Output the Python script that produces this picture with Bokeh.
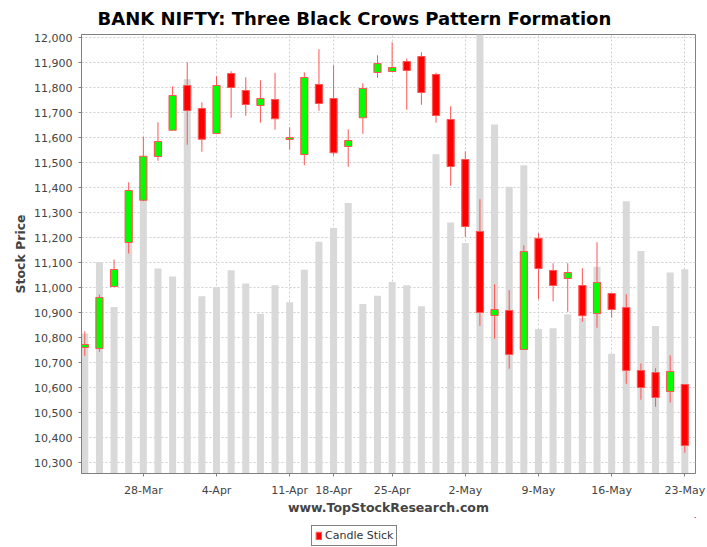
from bokeh.plotting import figure
from bokeh.layouts import column
from bokeh.models import (Range1d, FixedTicker, SingleIntervalTicker, NumeralTickFormatter,
                          Legend, LegendItem, ColumnDataSource)
from bokeh.embed import file_html
from bokeh.resources import INLINE

# ---- data (trading days, 2011) ----
dates = ["22-Mar", "23-Mar", "24-Mar", "25-Mar", "28-Mar", "29-Mar", "30-Mar", "31-Mar", "1-Apr",
         "4-Apr", "5-Apr", "6-Apr", "7-Apr", "8-Apr", "11-Apr", "13-Apr", "15-Apr",
         "18-Apr", "19-Apr", "20-Apr", "21-Apr", "25-Apr", "26-Apr", "27-Apr", "28-Apr", "29-Apr",
         "2-May", "3-May", "4-May", "5-May", "6-May", "9-May", "10-May", "11-May", "12-May", "13-May",
         "16-May", "17-May", "18-May", "19-May", "20-May", "23-May"]
opens = [10760, 10756, 11004, 11180, 11349, 11524, 11629, 11808, 11716, 11616, 11856, 11788, 11728, 11752,
         11592, 11532, 11812, 11756, 11564, 11679, 11860, 11864, 11904, 11924, 11852, 11672, 11512, 11224,
         10888, 10908, 10752, 11197, 11068, 11036, 11008, 10896, 10976, 10920, 10668, 10660, 10584, 10612]
highs = [10825, 10972, 11112, 11421, 11603, 11661, 11805, 11901, 11741, 11845, 11865, 11841, 11829, 11859,
         11641, 11861, 11953, 11889, 11633, 11817, 11929, 11981, 11916, 11941, 11859, 11725, 11545, 11353,
         11013, 10989, 11169, 11217, 11097, 11097, 11077, 11181, 10978, 10973, 10696, 10677, 10729, 10614]
lows = [10727, 10743, 11003, 11136, 11345, 11507, 11629, 11571, 11543, 11613, 11679, 11687, 11659, 11631,
        11551, 11489, 11707, 11527, 11483, 11615, 11839, 11863, 11711, 11731, 11659, 11407, 11203, 10847,
        10795, 10675, 10750, 10953, 10945, 10903, 10863, 10839, 10879, 10615, 10551, 10523, 10539, 10339]
closes = [10772, 10960, 11072, 11388, 11525, 11584, 11768, 11708, 11593, 11808, 11800, 11732, 11756, 11675,
          11600, 11840, 11736, 11539, 11588, 11796, 11896, 11880, 11868, 11780, 11688, 11484, 11244, 10900,
          10912, 10732, 11144, 11076, 11008, 11060, 10887, 11020, 10912, 10668, 10600, 10560, 10664, 10368]
volumes = [3.19, 4.81, 3.79, 5.27, 6.34, 4.67, 4.49, 8.98, 4.04, 4.24, 4.63, 4.33, 3.64, 4.29,
           3.90, 4.64, 5.28, 5.59, 6.16, 3.86, 4.05, 4.36, 4.29, 3.81, 7.27, 5.72, 5.25, 11.5,
           7.95, 6.53, 7.02, 3.29, 3.31, 3.63, 3.54, 4.71, 2.73, 6.20, 5.07, 3.36, 4.58, 4.65]
tick_labels = ["28-Mar", "4-Apr", "11-Apr", "18-Apr", "25-Apr", "2-May", "9-May", "16-May", "23-May"]
series_name = "Candle Stick"

idx = list(range(len(dates)))
up = [i for i in idx if closes[i] >= opens[i]]
down = [i for i in idx if closes[i] < opens[i]]

src_all = ColumnDataSource(dict(x=idx, high=highs, low=lows, vol=volumes))
src_up = ColumnDataSource(dict(x=up, top=[closes[i] for i in up], bottom=[opens[i] for i in up]))
src_dn = ColumnDataSource(dict(x=down, top=[opens[i] for i in down], bottom=[closes[i] for i in down]))

p = figure(width=707, height=517, frame_width=614, frame_height=439,
           output_backend="svg", toolbar_location=None,
           x_range=Range1d(-0.225, 41.73), y_range=Range1d(10256, 12012),
           min_border_left=81, min_border_right=12, min_border_top=34, min_border_bottom=44)
p.extra_y_ranges = {"vol": Range1d(0, 10)}

p.background_fill_color = "white"
p.border_fill_color = "white"
p.outline_line_color = "#808080"
p.outline_line_width = 1

# title
p.title.text = "BANK NIFTY: Three Black Crows Pattern Formation"
p.title.text_font = "DejaVu Sans"
p.title.text_font_style = "bold"
p.title.text_font_size = "18px"
p.title.text_color = "black"
p.title.align = "left"
p.title.offset = 16
p.title.standoff = 11

# grids
for g in (p.xgrid, p.ygrid):
    g.grid_line_color = "#cfcfcf"
    g.grid_line_dash = "2 2"
    g.grid_line_width = 1

# axes
p.xaxis.ticker = FixedTicker(ticks=[dates.index(t) for t in tick_labels])
p.xaxis.major_label_overrides = {dates.index(t): t for t in tick_labels}
p.yaxis.ticker = SingleIntervalTicker(interval=100)
p.yaxis.formatter = NumeralTickFormatter(format="0,0")
for ax in (p.xaxis, p.yaxis):
    ax.axis_line_color = "#808080"
    ax.major_tick_line_color = "#808080"
    ax.minor_tick_line_color = None
    ax.major_tick_in = 0
    ax.major_tick_out = 3
    ax.major_label_text_font = "DejaVu Sans"
    ax.major_label_text_font_size = "11px"
    ax.major_label_text_color = "#444444"
    ax.axis_label_text_font = "DejaVu Sans"
    ax.axis_label_text_font_style = "bold"
    ax.axis_label_text_font_size = "12.5px"
    ax.axis_label_text_color = "#444444"
p.xaxis.axis_label = "www.TopStockResearch.com"
p.yaxis.axis_label = "Stock Price"
p.xaxis.major_label_standoff = 7
p.xaxis.axis_label_standoff = 0
p.yaxis.major_label_standoff = 5
p.yaxis.axis_label_standoff = 3

# volume bars (background)
p.vbar(x="x", top="vol", bottom=0, width=0.48, source=src_all, y_range_name="vol",
       fill_color="#d9d9d9", line_color=None)

# wicks
p.segment(x0="x", y0="low", x1="x", y1="high", source=src_all, line_color="#ff5555", line_width=1)

# bodies
body_style = dict(width=0.48, line_color="#ff5555", line_width=1.2)
p.vbar(x="x", top="top", bottom="bottom", source=src_up, fill_color="#00ff00", **body_style)
p.vbar(x="x", top="top", bottom="bottom", source=src_dn, fill_color="#ff0000", **body_style)

# legend strip below the chart (its key renderer shares the candle data, outside its view)
lg = figure(width=707, height=30, output_backend="svg", toolbar_location=None,
            x_axis_type=None, y_axis_type=None,
            x_range=Range1d(0, 1), y_range=Range1d(0, 1),
            min_border_left=0, min_border_right=0, min_border_top=0, min_border_bottom=0)
lg.grid.visible = False
lg.outline_line_color = None
lg.background_fill_color = "white"
lg.border_fill_color = "white"
key = lg.vbar(x="x", top="top", bottom="bottom", source=src_dn, fill_color="#ff0000", **body_style)
legend = Legend(items=[LegendItem(label=series_name, renderers=[key])],
                location=(230, 1), orientation="horizontal",
                border_line_color="black", border_line_width=1,
                padding=3, margin=0, spacing=0,
                label_text_font="DejaVu Sans", label_text_font_size="11px",
                label_text_color="#333333", label_standoff=3,
                glyph_width=7, glyph_height=9, label_height=12)
lg.add_layout(legend, "center")

layout = column(p, lg, spacing=0)
open("out.html", "w").write(file_html(layout, INLINE))
